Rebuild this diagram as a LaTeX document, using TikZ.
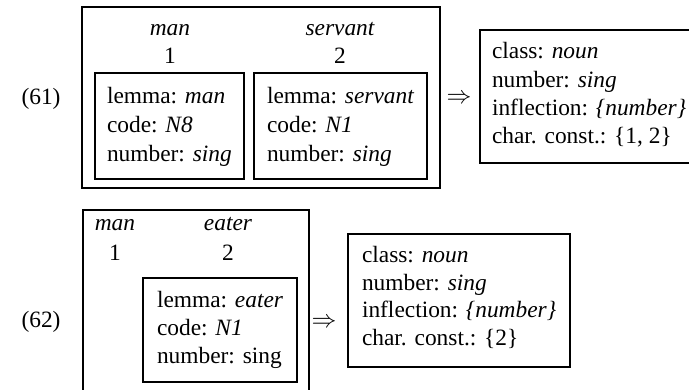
\documentclass[tikz,border=0pt]{standalone}
\usepackage{fontspec}
\setmainfont{Liberation Serif}
\newcommand\featfont{\fontsize{23.4}{28}\selectfont}
\begin{document}
\begin{tikzpicture}[x=1pt,y=-1pt,
  every node/.style={inner sep=0pt, outer sep=0pt, font=\featfont},
  frame/.style={draw, rectangle, line width=2.5pt},
  feat/.style={anchor=base west},
  word/.style={anchor=base}]
\useasboundingbox (0,0) rectangle (689,389);
\clip (0,0) rectangle (689,389);

% ---------- (61) man servant ----------
\node[frame, minimum width=358pt, minimum height=181pt] (outerA) at (261,97.5) {};
\node[frame, minimum width=149pt, minimum height=106pt] (manA) at (169.5,126) {};
\node[frame, minimum width=173pt, minimum height=106pt] (servA) at (340.5,126) {};
% result frame runs on past the right edge
\node[frame, minimum width=300pt, minimum height=133pt] (resA) at (630,96.5) {};

\node[word] (labA) at (41,104) {(61)};
\node[word] (wManA) at (170,35) {\itshape man};
\node[word] (nManA) at (170,63) {1};
\node[word] (wServA) at (340,35) {\itshape servant};
\node[word] (nServA) at (340,63) {2};

\node[feat] (m1) at (107,103) {lemma: \textit{man}};
\node[feat] (m2) at (107,132) {code: \textit{N8}};
\node[feat] (m3) at (107,161) {number: \textit{sing}};

\node[feat] (s1) at (267,103) {lemma: \textit{servant}};
\node[feat] (s2) at (267,132) {code: \textit{N1}};
\node[feat] (s3) at (267,161) {number: \textit{sing}};

\node[word] (arrA) at (459,103.3) {$\Rightarrow$};

\node[feat] (r1) at (492,58) {class: \textit{noun}};
\node[feat] (r2) at (492,87) {number: \textit{sing}};
\node[feat] (r3) at (492,115) {inflection: \textit{\{number\}}};
\node[feat] (r4) at (492,143) {char. const.: \{1, 2\}};

% ---------- (62) man eater ----------
\node[frame, minimum width=226pt, minimum height=210pt] (outerB) at (196,315) {};
\node[frame, minimum width=154pt, minimum height=104pt] (eatB) at (220,330) {};
\node[frame, minimum width=222pt, minimum height=133pt] (resB) at (459,300.5) {};

\node[word] (labB) at (41,327) {(62)};
\node[word] (wManB) at (115,230) {\itshape man};
\node[word] (nManB) at (115,260) {1};
\node[word] (wEatB) at (228,230) {\itshape eater};
\node[word] (nEatB) at (228,260) {2};

\node[feat] (e1) at (157,307) {lemma: \textit{eater}};
\node[feat] (e2) at (157,335) {code: \textit{N1}};
\node[feat] (e3) at (157,363) {number: sing};

\node[word] (arrB) at (324,327) {$\Rightarrow$};

\node[feat] (q1) at (362,262) {class: \textit{noun}};
\node[feat] (q2) at (362,290) {number: \textit{sing}};
\node[feat] (q3) at (362,317) {inflection: \textit{\{number\}}};
\node[feat] (q4) at (362,345) {char. const.: \{2\}};
\end{tikzpicture}
\end{document}
